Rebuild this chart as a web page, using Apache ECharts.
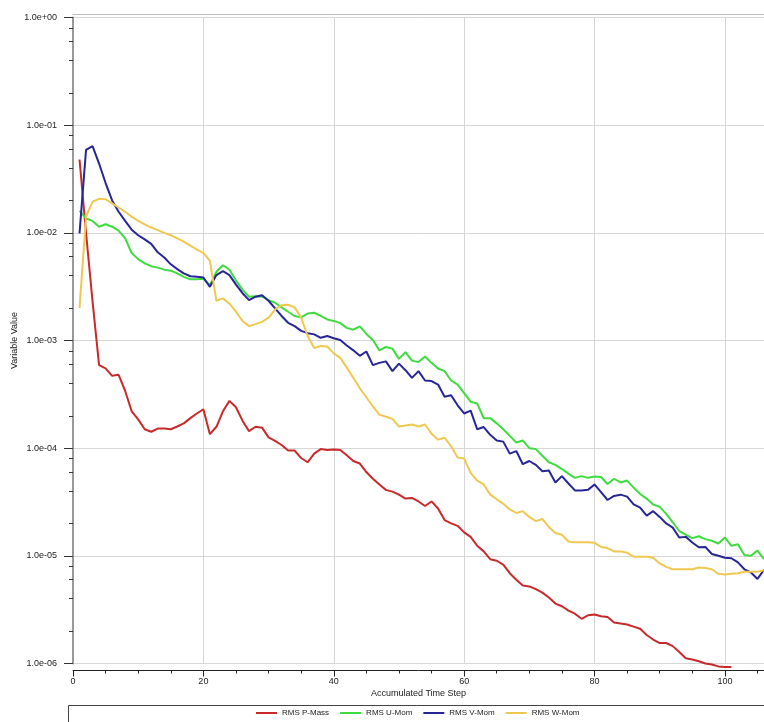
<!DOCTYPE html>
<html>
<head>
<meta charset="utf-8">
<script src="https://cdn.jsdelivr.net/npm/echarts@6/dist/echarts.min.js"></script>
<style>
html,body{margin:0;padding:0;background:#fff;}
#c{width:764px;height:722px;}
</style>
</head>
<body>
<div id="c"></div>
<script>
// ---- data (time step starts at 1) ----
const seriesNames = ['RMS P-Mass', 'RMS U-Mom', 'RMS V-Mom', 'RMS W-Mom'];
const xTickLabels = ['0', '20', '40', '60', '80', '100'];
const yTickLabels = ['1.0e-06', '1.0e-05', '1.0e-04', '1.0e-03', '1.0e-02', '1.0e-01', '1.0e+00'];

const pMass = [4.8e-2, 1.0e-2, 2.3e-3, 5.9e-4, 5.5e-4, 4.7e-4, 4.8e-4, 3.4e-4, 2.2e-4, 1.85e-4,
  1.5e-4, 1.42e-4, 1.52e-4, 1.52e-4, 1.5e-4, 1.59e-4, 1.7e-4, 1.9e-4, 2.1e-4, 2.3e-4,
  1.35e-4, 1.58e-4, 2.2e-4, 2.75e-4, 2.4e-4, 1.8e-4, 1.44e-4, 1.58e-4, 1.55e-4, 1.26e-4,
  1.17e-4, 1.07e-4, 9.5e-5, 9.5e-5, 8.1e-5, 7.4e-5, 8.9e-5, 9.8e-5, 9.6e-5, 9.7e-5,
  9.6e-5, 8.6e-5, 7.6e-5, 7.2e-5, 6.0e-5, 5.2e-5, 4.6e-5, 4.1e-5, 3.95e-5, 3.7e-5,
  3.4e-5, 3.45e-5, 3.2e-5, 2.9e-5, 3.2e-5, 2.75e-5, 2.15e-5, 2.0e-5, 1.9e-5, 1.65e-5,
  1.5e-5, 1.24e-5, 1.1e-5, 9.3e-6, 9.0e-6, 8.3e-6, 6.9e-6, 6.0e-6, 5.3e-6, 5.2e-6,
  4.9e-6, 4.55e-6, 4.1e-6, 3.6e-6, 3.4e-6, 3.1e-6, 2.9e-6, 2.6e-6, 2.8e-6, 2.85e-6,
  2.75e-6, 2.7e-6, 2.4e-6, 2.35e-6, 2.3e-6, 2.2e-6, 2.1e-6, 1.84e-6, 1.67e-6, 1.55e-6,
  1.55e-6, 1.45e-6, 1.28e-6, 1.12e-6, 1.09e-6, 1.05e-6, 1.0e-6, 0.98e-6, 0.94e-6, 0.93e-6,
  0.93e-6];

const uMom = [1.6e-2, 1.36e-2, 1.29e-2, 1.14e-2, 1.2e-2, 1.14e-2, 1.05e-2, 8.9e-3, 6.5e-3, 5.7e-3,
  5.2e-3, 4.9e-3, 4.75e-3, 4.55e-3, 4.45e-3, 4.2e-3, 3.9e-3, 3.7e-3, 3.7e-3, 3.75e-3,
  3.25e-3, 4.35e-3, 5.0e-3, 4.55e-3, 3.6e-3, 2.97e-3, 2.55e-3, 2.58e-3, 2.55e-3, 2.37e-3,
  2.24e-3, 2.03e-3, 1.85e-3, 1.69e-3, 1.64e-3, 1.78e-3, 1.81e-3, 1.69e-3, 1.57e-3, 1.52e-3,
  1.45e-3, 1.31e-3, 1.26e-3, 1.35e-3, 1.15e-3, 1.01e-3, 8.1e-4, 8.7e-4, 8.4e-4, 6.75e-4,
  7.8e-4, 6.5e-4, 6.3e-4, 7.1e-4, 6.2e-4, 5.5e-4, 5.2e-4, 4.25e-4, 3.9e-4, 3.25e-4,
  2.7e-4, 2.6e-4, 1.9e-4, 1.9e-4, 1.7e-4, 1.5e-4, 1.3e-4, 1.13e-4, 1.18e-4, 1.0e-4,
  9.8e-5, 8.5e-5, 7.4e-5, 7.0e-5, 6.4e-5, 5.8e-5, 5.3e-5, 5.5e-5, 5.3e-5, 5.45e-5,
  5.4e-5, 4.65e-5, 5.2e-5, 4.8e-5, 5.0e-5, 4.3e-5, 3.75e-5, 3.4e-5, 3.0e-5, 2.85e-5,
  2.45e-5, 2.05e-5, 1.7e-5, 1.57e-5, 1.46e-5, 1.52e-5, 1.43e-5, 1.38e-5, 1.3e-5, 1.48e-5,
  1.24e-5, 1.28e-5, 1.02e-5, 1.0e-5, 1.12e-5, 9.3e-6];

const vMom = [9.9e-3, 5.9e-2, 6.4e-2, 4.4e-2, 2.9e-2, 2.0e-2, 1.57e-2, 1.29e-2, 1.07e-2, 9.5e-3,
  8.7e-3, 7.9e-3, 6.6e-3, 5.9e-3, 5.1e-3, 4.6e-3, 4.2e-3, 3.95e-3, 3.9e-3, 3.85e-3,
  3.15e-3, 4.05e-3, 4.4e-3, 4.05e-3, 3.3e-3, 2.75e-3, 2.37e-3, 2.55e-3, 2.63e-3, 2.34e-3,
  1.99e-3, 1.69e-3, 1.46e-3, 1.36e-3, 1.23e-3, 1.17e-3, 1.14e-3, 1.06e-3, 1.1e-3, 1.05e-3,
  1.01e-3, 9.0e-4, 8.1e-4, 7.2e-4, 7.9e-4, 5.9e-4, 6.2e-4, 6.4e-4, 5.2e-4, 6.1e-4,
  5.3e-4, 4.5e-4, 5.2e-4, 4.25e-4, 4.2e-4, 3.9e-4, 3.0e-4, 3.1e-4, 2.5e-4, 2.1e-4,
  2.23e-4, 1.5e-4, 1.57e-4, 1.33e-4, 1.18e-4, 1.15e-4, 8.9e-5, 9.4e-5, 7.1e-5, 7.6e-5,
  7.0e-5, 6.1e-5, 6.2e-5, 4.8e-5, 5.5e-5, 4.7e-5, 4.05e-5, 4.05e-5, 4.1e-5, 4.6e-5,
  3.9e-5, 3.3e-5, 3.6e-5, 3.7e-5, 3.55e-5, 3.0e-5, 2.8e-5, 2.36e-5, 2.6e-5, 2.3e-5,
  2.0e-5, 1.83e-5, 1.48e-5, 1.5e-5, 1.33e-5, 1.2e-5, 1.21e-5, 1.04e-5, 1.0e-5, 9.6e-6,
  9.5e-6, 8.7e-6, 7.5e-6, 7.0e-6, 6.1e-6, 7.4e-6];

const wMom = [2.0e-3, 1.41e-2, 1.95e-2, 2.07e-2, 2.05e-2, 1.88e-2, 1.72e-2, 1.57e-2, 1.41e-2, 1.29e-2,
  1.2e-2, 1.12e-2, 1.06e-2, 1.0e-2, 9.5e-3, 8.9e-3, 8.3e-3, 7.6e-3, 7.0e-3, 6.5e-3,
  5.5e-3, 2.34e-3, 2.46e-3, 2.2e-3, 1.85e-3, 1.52e-3, 1.36e-3, 1.42e-3, 1.49e-3, 1.63e-3,
  1.94e-3, 2.13e-3, 2.15e-3, 2.03e-3, 1.63e-3, 1.1e-3, 8.5e-4, 8.9e-4, 8.8e-4, 7.6e-4,
  6.9e-4, 5.6e-4, 4.5e-4, 3.6e-4, 2.97e-4, 2.44e-4, 2.05e-4, 1.96e-4, 1.87e-4, 1.59e-4,
  1.62e-4, 1.66e-4, 1.59e-4, 1.66e-4, 1.36e-4, 1.2e-4, 1.25e-4, 1.04e-4, 8.2e-5, 8.0e-5,
  5.9e-5, 5.0e-5, 4.6e-5, 3.7e-5, 3.35e-5, 3.05e-5, 2.7e-5, 2.5e-5, 2.6e-5, 2.3e-5,
  2.1e-5, 2.2e-5, 1.85e-5, 1.63e-5, 1.57e-5, 1.36e-5, 1.34e-5, 1.34e-5, 1.34e-5, 1.32e-5,
  1.21e-5, 1.18e-5, 1.1e-5, 1.1e-5, 1.07e-5, 9.8e-6, 9.8e-6, 9.8e-6, 9.6e-6, 8.5e-6,
  7.9e-6, 7.5e-6, 7.5e-6, 7.5e-6, 7.5e-6, 7.8e-6, 7.7e-6, 7.5e-6, 6.8e-6, 6.7e-6,
  6.8e-6, 6.9e-6, 7.1e-6, 7.1e-6, 7.1e-6, 7.35e-6];

const colors = ['#c82a2c', '#3fdc3f', '#262696', '#f0c850'];
const allSeries = [pMass, uMom, vMom, wMom];

// minor tick values on the log axis (2,4,6,8 x 10^k)
const minorVals = [];
for (let e = -6; e < 0; e++) {
  [2, 4, 6, 8].forEach(m => minorVals.push(m * Math.pow(10, e)));
}

function fmtExp(v) {
  const e = Math.round(Math.log10(v));
  const s = e < 0 ? '-' : '+';
  const a = Math.abs(e);
  return '1.0e' + s + (a < 10 ? '0' + a : String(a));
}

const chart = echarts.init(document.getElementById('c'), null, {renderer: 'canvas'});
const font = 'Liberation Sans';
const option = {
  animation: false,
  backgroundColor: '#fff',
  textStyle: {fontFamily: font},
  grid: {left: 73, right: 0, top: 17.5, bottom: 58.5, containLabel: false, outerBoundsMode: 'none'},
  legend: {
    data: seriesNames,
    left: 256, top: 709,
    icon: 'rect', itemWidth: 21, itemHeight: 2, itemGap: 11,
    textStyle: {fontSize: 8, color: '#222', fontFamily: font},
    padding: 0
  },
  graphic: [{
    type: 'rect', silent: true,
    shape: {x: 68.5, y: 705.5, width: 700, height: 30},
    style: {fill: 'none', stroke: '#444', lineWidth: 1}
  }],
  xAxis: [{
    type: 'value', min: 0, max: 106, interval: 20, position: 'bottom', offset: 7,
    name: 'Accumulated Time Step', nameLocation: 'middle', nameGap: 19,
    nameMoveOverlap: false,
    nameTextStyle: {fontSize: 9, color: '#222', fontFamily: font},
    axisLine: {show: true, lineStyle: {color: '#222', width: 1}},
    axisTick: {show: true, inside: false, length: 6, lineStyle: {color: '#222'}},
    axisLabel: {fontSize: 9, color: '#222', margin: 7, showMaxLabel: false,
      formatter: v => (xTickLabels.indexOf(String(v)) >= 0 ? String(v) : '')},
    splitLine: {show: true, lineStyle: {color: '#d6d6d6', width: 1}}
  }, {
    type: 'value', min: 0, max: 106, interval: 5, position: 'bottom', offset: 7,
    axisLine: {show: false},
    axisTick: {show: true, inside: false, length: 3, lineStyle: {color: '#222'}},
    axisLabel: {show: false},
    splitLine: {show: false}
  }, {
    type: 'value', min: 0, max: 106, position: 'top', offset: 3.5,
    axisLine: {show: true, lineStyle: {color: '#bdbdbd', width: 1}},
    axisTick: {show: false}, axisLabel: {show: false}, splitLine: {show: false}
  }],
  yAxis: [{
    type: 'log', logBase: 10, min: 1e-6, max: 1, splitNumber: 6,
    position: 'left', offset: 5,
    name: 'Variable Value', nameLocation: 'middle', nameGap: 49,
    nameMoveOverlap: false,
    nameTextStyle: {fontSize: 9, color: '#222', fontFamily: font},
    axisLine: {show: true, lineStyle: {color: '#999', width: 2}},
    axisTick: {show: true, inside: false, length: 9, lineStyle: {color: '#333'}},
    axisLabel: {fontSize: 9, color: '#222', margin: 11,
      formatter: v => { const s = fmtExp(v); return yTickLabels.indexOf(s) >= 0 ? s : ''; }},
    splitLine: {show: true, lineStyle: {color: '#d6d6d6', width: 1}}
  }, {
    type: 'log', logBase: 10, min: 1e-6, max: 1,
    position: 'left', offset: 5,
    axisLine: {show: false},
    axisTick: {show: true, inside: false, length: 4, customValues: minorVals, lineStyle: {color: '#333'}},
    axisLabel: {show: false},
    splitLine: {show: false}
  }],
  series: allSeries.map((arr, i) => ({
    name: seriesNames[i],
    type: 'line',
    xAxisIndex: 0, yAxisIndex: 0,
    data: arr.map((v, k) => [k + 1, v]),
    showSymbol: false, symbol: 'none',
    clip: false,
    color: colors[i],
    lineStyle: {color: colors[i], width: 2},
    z: 3
  }))
};
chart.setOption(option);
</script>
</body>
</html>
